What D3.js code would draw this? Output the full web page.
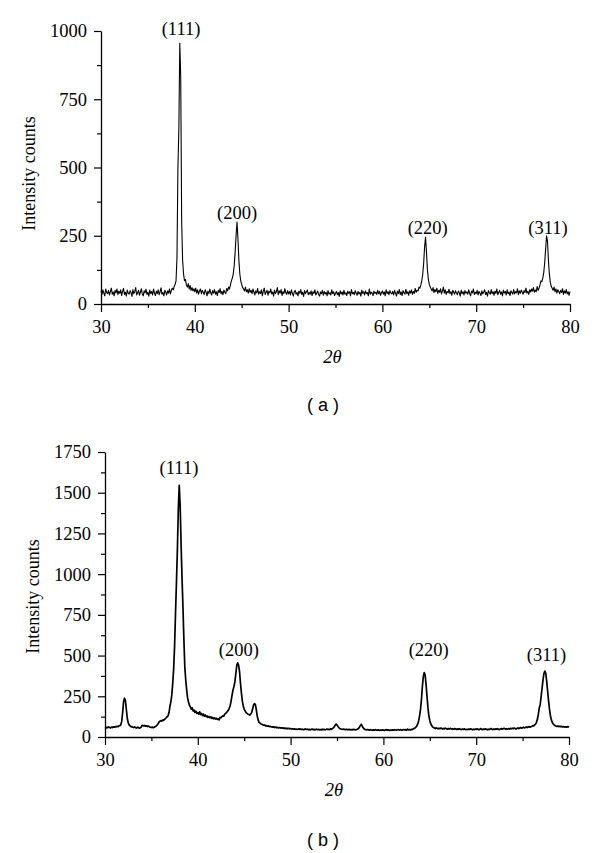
<!DOCTYPE html>
<html><head><meta charset="utf-8">
<script src="https://cdn.jsdelivr.net/npm/d3@7"></script>
<style>
html,body{margin:0;padding:0;background:#fff;}
svg{display:block;}
.tick text{font-family:"Liberation Serif","Times New Roman",serif;font-size:18.5px;fill:#000;}
</style></head>
<body>
<svg id="chart" width="600" height="853"></svg>
<script>
// ---------- DATA ----------
// 2θ sampling of both patterns (degrees)
const twoThetaStart = 30, twoThetaStep = 0.1;

// Pattern (a): intensity counts, one value per 0.1°, 30.0 … 80.0
const intensityA = [
48,35,52,40,30,55,42,38,50,33,
45,58,36,44,30,50,41,55,34,47,
39,52,31,46,57,35,43,29,51,40,
36,49,42,28,53,38,45,60,33,41,
50,32,44,56,37,30,48,41,54,35,
43,29,51,38,46,33,55,40,31,47,
38,52,34,45,59,36,42,30,50,44,
33,48,40,55,37,50,58,52,64,72,
85,170,500,640,955,830,300,160,110,85,
90,70,62,75,55,68,50,60,48,56,
45,58,40,52,36,48,55,38,50,42,
35,52,44,30,47,38,55,41,33,49,
40,53,36,45,31,50,42,56,37,46,
34,51,43,38,57,48,62,55,70,85,
95,110,140,190,250,300,240,160,110,85,
72,60,55,48,62,45,52,40,56,43,
50,38,55,44,33,48,41,57,36,45,
39,52,30,46,58,35,43,50,32,47,
41,55,37,44,29,51,38,46,60,34,
48,40,53,31,45,38,56,42,35,49,
37,46,33,52,40,29,44,50,36,42,
30,47,39,53,35,43,28,49,38,45,
51,34,42,36,48,31,45,39,52,33,
40,47,35,29,44,38,50,32,46,37,
43,30,49,36,41,33,52,38,45,31,
39,46,34,42,28,48,37,44,33,50,
36,41,31,47,39,45,30,53,38,42,
34,49,40,32,46,37,43,29,51,39,
45,33,48,38,42,30,55,36,44,40,
31,47,39,43,35,50,37,46,32,41,
48,36,44,30,52,39,45,34,49,41,
37,46,33,50,40,29,47,38,53,35,
44,31,49,41,36,54,38,45,32,48,
40,52,35,46,39,57,43,50,48,62,
58,70,85,110,150,210,245,190,125,90,
72,62,55,48,60,42,53,45,58,39,
50,43,56,37,47,62,40,52,35,46,
41,54,38,45,32,50,43,36,48,40,
34,47,42,29,51,38,45,33,49,40,
44,36,52,39,30,47,41,55,35,43,
38,50,33,46,40,31,48,37,44,52,
35,43,29,49,41,36,53,38,45,32,
47,39,55,34,42,50,36,44,30,51,
40,46,33,52,38,44,31,48,42,36,
53,37,45,41,56,34,48,39,51,43,
36,49,42,58,40,46,35,52,44,55,
47,60,43,51,45,64,50,58,70,85,
82,95,115,150,200,250,230,160,110,80,
65,58,50,62,45,55,40,52,46,38,
50,42,56,35,48,40,53,37,45,32,
45
];

// Pattern (b): intensity counts, one value per 0.1°, 30.0 … 80.0
const intensityB = [
58,55,60,57,62,59,56,61,58,63,
60,64,62,66,63,68,70,75,95,150,
215,238,225,170,115,88,74,68,64,62,
60,58,62,57,55,60,58,54,57,60,
72,70,68,71,66,69,64,67,62,60,
58,61,57,60,63,66,72,80,90,96,
100,98,104,102,108,112,118,125,130,150,
190,215,260,330,420,560,760,950,1150,1400,
1545,1420,1180,980,800,600,430,350,290,240,
215,195,185,170,178,160,165,150,158,145,
150,140,155,138,145,132,140,128,135,125,
130,120,126,118,124,115,120,112,118,110,
115,108,112,105,120,118,125,130,128,140,
145,150,158,165,178,195,225,260,290,310,
340,390,440,455,440,400,330,270,220,190,
170,160,150,145,140,138,135,140,150,170,
195,205,200,170,130,105,90,85,80,78,
75,72,74,68,70,66,68,64,66,62,
63,60,62,58,61,57,59,56,58,55,
57,54,56,52,55,51,54,50,53,50,
52,49,51,48,50,47,49,46,48,50,
47,49,46,48,45,47,50,46,48,45,
47,44,46,49,45,47,44,46,48,45,
47,44,46,43,48,45,47,44,46,49,
46,48,45,50,47,52,55,62,72,80,
74,65,58,52,50,48,46,49,47,45,
48,46,44,47,45,43,46,44,47,45,
43,46,48,52,58,68,78,70,58,50,
47,45,43,46,44,42,45,43,41,44,
42,45,43,41,44,42,40,43,41,44,
42,40,43,45,41,44,42,40,43,41,
44,42,45,43,41,44,46,42,45,43,
41,44,46,43,45,42,48,44,46,43,
47,45,49,52,55,60,68,80,100,130,
170,230,310,370,395,380,320,250,180,130,
100,82,70,62,58,55,52,56,53,50,
54,51,55,52,49,53,50,54,51,48,
52,49,53,50,47,51,48,52,49,46,
50,47,51,48,45,49,46,50,47,45,
48,45,49,46,50,47,44,48,45,49,
46,50,47,44,48,52,47,45,49,46,
50,47,44,48,45,49,52,48,45,49,
46,50,47,51,48,45,49,52,48,50,
53,50,47,51,48,52,49,53,50,54,
51,55,52,49,53,56,52,55,58,54,
57,60,56,59,62,58,61,64,60,63,
66,70,68,74,80,90,110,140,180,200,
250,300,350,390,405,390,340,280,220,170,
130,105,90,80,74,70,67,65,68,64,
66,63,65,62,64,61,63,60,62,64,
60
];

// Peak (hkl) labels, anchored in data units (2θ, intensity)
const peakLabelsA = ["(111)", "(200)", "(220)", "(311)"];
const peakAnglesA = [38.53, 44.5, 64.83, 77.65];
const peakLabelLevelA = [985, 311, 256, 256];
const peakLabelsB = ["(111)", "(200)", "(220)", "(311)"];
const peakAnglesB = [37.97, 44.42, 64.88, 77.58];
const peakLabelLevelB = [1615, 497, 497, 467];

// Axis ticks
const xTicks = [30, 40, 50, 60, 70, 80];
const xMinorTicks = [35, 45, 55, 65, 75];
const yTicksA = [0, 250, 500, 750, 1000];
const yMinorTicksA = [125, 375, 625, 875];
const yTicksB = [0, 250, 500, 750, 1000, 1250, 1500, 1750];
const yMinorTicksB = [125, 375, 625, 875, 1125, 1375, 1625];
const yTitle = "Intensity counts";
const captions = ["( a )", "( b )"];

// ---------- DRAW ----------
const svg = d3.select("#chart");
const SERIF = '"Liberation Serif","Times New Roman",serif';

function panel(cfg) {
  const x = d3.scaleLinear().domain([30, 80]).range([cfg.left, cfg.right]);
  const y = d3.scaleLinear().domain([0, cfg.ymax]).range([cfg.bottom, cfg.top]);
  const g = svg.append("g");

  const pts = cfg.values.map((v, i) => [twoThetaStart + i * twoThetaStep, v]);
  g.append("path")
    .datum(pts)
    .attr("fill", "none")
    .attr("stroke", "#000")
    .attr("stroke-width", cfg.lw)
    .attr("stroke-linejoin", "round")
    .attr("d", d3.line().x(d => x(d[0])).y(d => y(d[1])));

  // minor ticks
  g.append("g").attr("transform", `translate(0,${cfg.bottom})`)
    .call(d3.axisBottom(x).tickValues(xMinorTicks).tickSize(4).tickFormat(""))
    .call(s => s.select(".domain").remove())
    .call(s => s.selectAll("line").attr("stroke", "#000").attr("stroke-width", 1.2));
  g.append("g").attr("transform", `translate(${cfg.left},0)`)
    .call(d3.axisLeft(y).tickValues(cfg.yMinor).tickSize(4).tickFormat(""))
    .call(s => s.select(".domain").remove())
    .call(s => s.selectAll("line").attr("stroke", "#000").attr("stroke-width", 1.2));

  // major
  g.append("g").attr("transform", `translate(0,${cfg.bottom})`)
    .call(d3.axisBottom(x).tickValues(xTicks).tickSize(8).tickSizeOuter(0).tickPadding(8).tickFormat(d3.format("d")))
    .call(s => s.select(".domain").attr("stroke", "#000").attr("stroke-width", 1.3))
    .call(s => s.selectAll("line").attr("stroke", "#000").attr("stroke-width", 1.2));
  g.append("g").attr("transform", `translate(${cfg.left},0)`)
    .call(d3.axisLeft(y).tickValues(cfg.yTicks).tickSize(7).tickSizeOuter(0).tickPadding(7).tickFormat(d3.format("d")))
    .call(s => s.select(".domain").attr("stroke", "#000").attr("stroke-width", 1.3))
    .call(s => s.selectAll("line").attr("stroke", "#000").attr("stroke-width", 1.2));

  // peak labels
  g.selectAll("text.peak").data(cfg.labels).enter().append("text")
    .attr("class", "peak")
    .attr("x", (d, i) => x(cfg.angles[i]))
    .attr("y", (d, i) => y(cfg.levels[i]))
    .attr("text-anchor", "middle")
    .attr("font-family", SERIF)
    .attr("font-size", 18.5)
    .attr("fill", "#000")
    .text(d => d);

  // axis titles
  g.append("text")
    .attr("transform", `translate(${cfg.left - 66},${(cfg.top + cfg.bottom) / 2 + cfg.ytOff}) rotate(-90)`)
    .attr("text-anchor", "middle")
    .attr("font-family", SERIF)
    .attr("font-size", 18)
    .attr("fill", "#000")
    .text(yTitle);

  const xt = g.append("text")
    .attr("x", (cfg.left + cfg.right) / 2 - 3)
    .attr("y", cfg.bottom + 59)
    .attr("text-anchor", "middle")
    .attr("font-family", SERIF)
    .attr("font-size", 18.5)
    .attr("font-style", "italic")
    .attr("fill", "#000");
  xt.append("tspan").text("2");
  xt.append("tspan").text("θ");

  g.append("text")
    .attr("x", 323)
    .attr("y", cfg.capY)
    .attr("text-anchor", "middle")
    .attr("font-family", '"Liberation Sans",Arial,sans-serif')
    .attr("font-size", 18)
    .attr("fill", "#000")
    .attr("xml:space", "preserve")
    .text(cfg.caption);
}

panel({values: intensityA, left: 101, right: 570, top: 31, bottom: 304, ymax: 1000,
  yTicks: yTicksA, yMinor: yMinorTicksA, labels: peakLabelsA, angles: peakAnglesA,
  levels: peakLabelLevelA, lw: 1.1, capY: 411, caption: captions[0], ytOff: 6});
panel({values: intensityB, left: 105, right: 569, top: 452, bottom: 737, ymax: 1750,
  yTicks: yTicksB, yMinor: yMinorTicksB, labels: peakLabelsB, angles: peakAnglesB,
  levels: peakLabelLevelB, lw: 1.7, capY: 846, caption: captions[1], ytOff: 2});
</script>
</body></html>
